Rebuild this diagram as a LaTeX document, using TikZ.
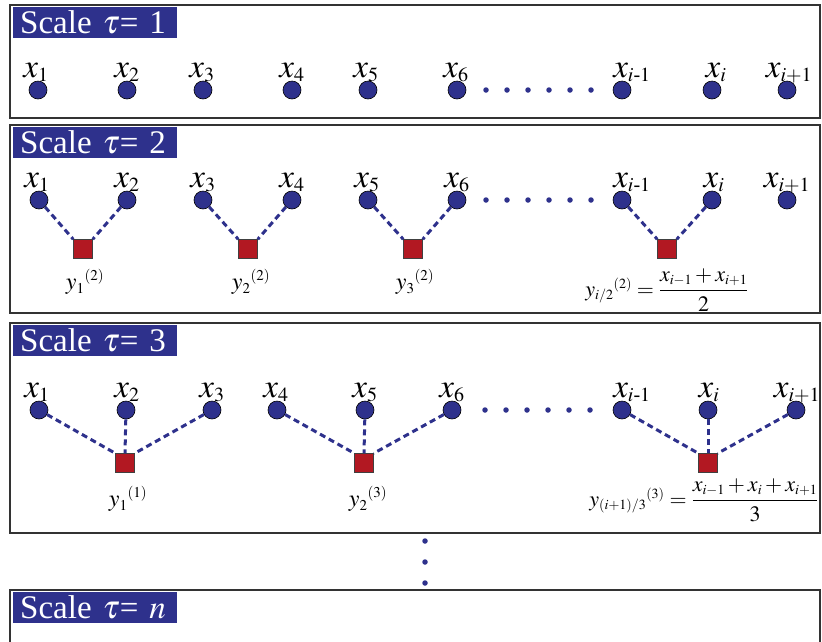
\documentclass[tikz,border=0pt]{standalone}
\usepackage{amsmath}
\usepackage{mathptmx}
\usepackage{fontspec}
\setmainfont{Liberation Serif}
\DeclareMathSizes{22}{22}{14}{10}
\DeclareMathSizes{24}{24}{15}{11}
\DeclareMathSizes{33}{33}{20}{14}
\definecolor{navy}{RGB}{46,49,140}
\definecolor{sqred}{RGB}{178,24,34}
\tikzset{
  pt/.style={circle, draw=black, line width=0.6pt, fill=navy, minimum size=18pt, inner sep=0pt},
  sq/.style={rectangle, draw=black!75, line width=0.5pt, fill=sqred, minimum size=19pt, inner sep=0pt},
  lnk/.style={navy, line width=3pt, dash pattern=on 6pt off 4pt},
  dotc/.style={circle, fill=navy, minimum size=5.5pt, inner sep=0pt},
  lab/.style={font=\fontsize{33}{36}\selectfont, anchor=base, inner sep=0pt},
  ylab/.style={font=\fontsize{24}{27}\selectfont, inner sep=0pt},
  flab/.style={font=\fontsize{22}{25}\selectfont, inner sep=0pt},
  ttl/.style={fill=navy, text=white, font=\fontsize{33}{36}\selectfont, anchor=north west,
              minimum height=31pt, text width=150pt, align=left, inner xsep=7pt, inner ysep=0pt},
  frame/.style={draw=black!80, line width=1.6pt}
}
\begin{document}
\begin{tikzpicture}[x=1pt,y=-1pt]
\useasboundingbox (0,0) rectangle (822,641);
% frames
\draw[frame] (10,5) rectangle (820,118);
\draw[frame] (10,125) rectangle (820,313);
\draw[frame] (10,323) rectangle (820,533);
\draw[frame] (10,645) -- (10,590) -- (820,590) -- (820,645);
% titles
\node[ttl] (t1) at (13,7) {Scale\ $\tau$= 1};
\node[ttl] (t2) at (13,127) {Scale\ $\tau$= 2};
\node[ttl] (t3) at (13,325) {Scale\ $\tau$= 3};
\node[ttl] (t4) at (13,592) {Scale\ $\tau$= $n$};
% panel 1
\foreach \c/\l/\s [count=\k] in {38/36/1,127/127/2,203/202/3,292/292/4,368/366/5,457/456/6,622/632/{i\text{-}1},712/716/i,787/789/{i+1}}{
  \node[pt] (a\k) at (\c,90) {};
  \node[lab] (la\k) at (\l,77) {$x_{\s}$};
}
\foreach \i in {0,...,5} \node[dotc] (da\i) at (486+\i*21,90) {};
% panel 2
\foreach \c/\l/\s [count=\k] in {39/37/1,127/127/2,203/203/3,292/292/4,368/367/5,457/457/6,622/632/{i\text{-}1},712/714/i,787/787/{i+1}}{
  \node[pt] (b\k) at (\c,200) {};
  \node[lab] (lb\k) at (\l,187) {$x_{\s}$};
}
\foreach \i in {0,...,5} \node[dotc] (db\i) at (486+\i*21,200) {};
\node[sq] (s1) at (83,249) {};
\node[sq] (s2) at (248,249) {};
\node[sq] (s3) at (413,249) {};
\node[sq] (s4) at (667,249) {};
\draw[lnk] (b1) -- (s1.north west);
\draw[lnk] (b2) -- (s1.north east);
\draw[lnk] (b3) -- (s2.north west);
\draw[lnk] (b4) -- (s2.north east);
\draw[lnk] (b5) -- (s3.north west);
\draw[lnk] (b6) -- (s3.north east);
\draw[lnk] (b7) -- (s4.north west);
\draw[lnk] (b8) -- (s4.north east);
\node[ylab] (ys1) at (85,282) {${y_1}^{(2)}$};
\node[ylab] (ys2) at (251,282) {${y_2}^{(2)}$};
\node[ylab] (ys3) at (415,282) {${y_3}^{(2)}$};
\node[flab] (f2) at (667,290) {\medmuskip=2.5mu\thickmuskip=4mu${y_{i/2}}^{(2)}=\dfrac{x_{i-1}+x_{i+1}}{2}$};
% panel 3
\foreach \c/\l/\s [count=\k] in {39/37/1,126/127/2,212/212/3,277/276/4,365/365/5,452/452/6,622/632/{i\text{-}1},708/709/i,796/797/{i+1}}{
  \node[pt] (c\k) at (\c,410) {};
  \node[lab] (lc\k) at (\l,397) {$x_{\s}$};
}
\foreach \i in {0,...,5} \node[dotc] (dc\i) at (485+\i*21,410) {};
\node[sq] (r1) at (125,463) {};
\node[sq] (r2) at (364,463) {};
\node[sq] (r3) at (708,463) {};
\draw[lnk] (c1) -- (r1.north west);
\draw[lnk] (c2) -- (r1.north);
\draw[lnk] (c3) -- (r1.north east);
\draw[lnk] (c4) -- (r2.north west);
\draw[lnk] (c5) -- (r2.north);
\draw[lnk] (c6) -- (r2.north east);
\draw[lnk] (c7) -- (r3.north west);
\draw[lnk] (c8) -- (r3.north);
\draw[lnk] (c9) -- (r3.north east);
\node[ylab] (yr1) at (128,499) {${y_1}^{(1)}$};
\node[ylab] (yr2) at (368,499) {${y_2}^{(3)}$};
\node[flab] (f3) at (704,500) {\medmuskip=2.5mu\thickmuskip=4mu${y_{(i+1)/3}}^{(3)}=\dfrac{x_{i-1}+x_i+x_{i+1}}{3}$};
% vertical dots
\node[dotc] (v1) at (425,541) {};
\node[dotc] (v2) at (425,562) {};
\node[dotc] (v3) at (425,583) {};
\end{tikzpicture}
\end{document}
